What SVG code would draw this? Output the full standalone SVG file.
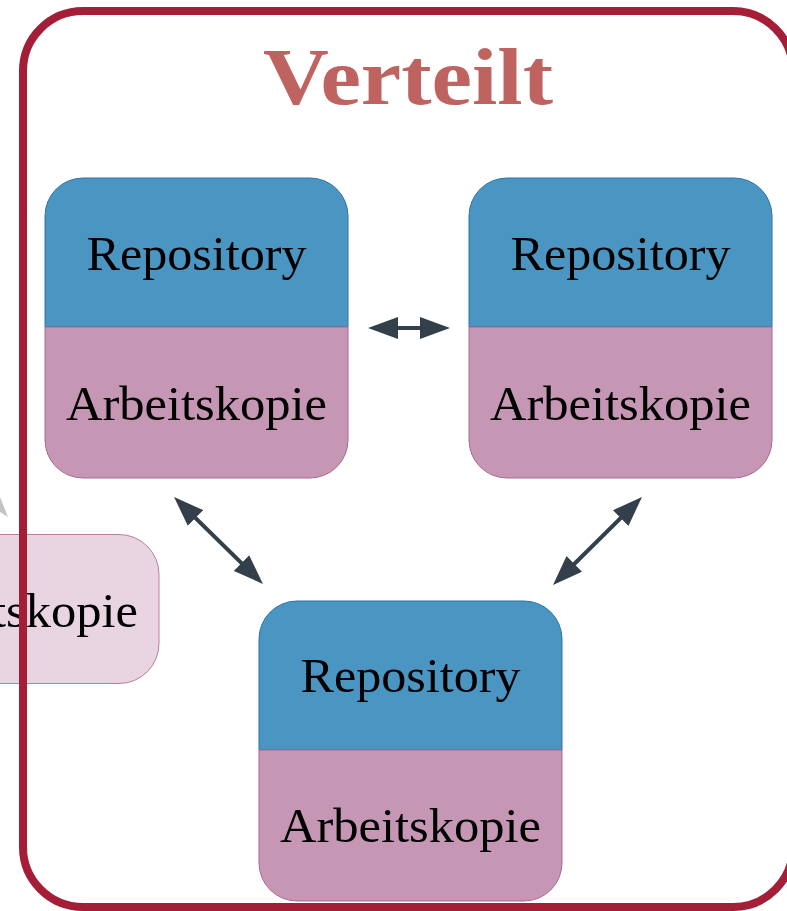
<svg xmlns="http://www.w3.org/2000/svg" width="787" height="911" viewBox="0 0 787 911">
  <style>
    .repo { fill: #4a95c2; stroke: #2e73a8; stroke-width: 1; }
    .work { fill: #c597b4; stroke: #a86891; stroke-width: 1; }
    .label { font-family: "Liberation Serif", "Times New Roman", serif; font-size: 48px; fill: #000; text-anchor: middle; }
    .title { font-family: "Liberation Serif", "Times New Roman", serif; font-size: 80px; font-weight: bold; fill: #be6360; text-anchor: middle; }
    .conn { stroke: #333f4b; stroke-width: 4; fill: none; }
  </style>
  <defs>
    <!-- arrowhead: 30 long, 22 wide; the shaft ends 10px short of the tip -->
    <marker id="head" markerUnits="userSpaceOnUse" markerWidth="30" markerHeight="22" refX="20" refY="11" orient="auto-start-reverse" viewBox="0 0 30 22">
      <polygon points="0,0 30,11 0,22" fill="#333f4b"/>
    </marker>
  </defs>

  <rect width="787" height="911" fill="#ffffff"/>

  <!-- faded elements from the neighbouring layout -->
  <polygon points="0,497 8,517 0,512" fill="#c4c4c4"/>
  <g id="local-copy">
    <rect x="-144" y="534.5" width="303" height="149" rx="40" fill="#e8d5e1" stroke="#b77ea0" stroke-width="1"/>
    <text class="label" x="7.5" y="627" textLength="261" lengthAdjust="spacingAndGlyphs">Arbeitskopie</text>
  </g>

  <!-- frame around the distributed setup -->
  <g id="frame">
    <rect x="23" y="11" width="770" height="896" rx="60" fill="none" stroke="#a51e37" stroke-width="8"/>
    <text class="title" x="408" y="104" textLength="290" lengthAdjust="spacingAndGlyphs">Verteilt</text>
  </g>

  <!-- node: upper left -->
  <g id="node-left">
    <path class="repo" d="M45,327 V216 a38,38 0 0 1 38,-38 H310 a38,38 0 0 1 38,38 V327 Z"/>
    <path class="work" d="M45,327 H348 V440 a38,38 0 0 1 -38,38 H83 a38,38 0 0 1 -38,-38 Z"/>
    <text class="label" x="196.5" y="270" textLength="220" lengthAdjust="spacingAndGlyphs">Repository</text>
    <text class="label" x="196.5" y="420" textLength="261" lengthAdjust="spacingAndGlyphs">Arbeitskopie</text>
  </g>

  <!-- node: upper right -->
  <g id="node-right">
    <path class="repo" d="M469,327 V216 a38,38 0 0 1 38,-38 H734 a38,38 0 0 1 38,38 V327 Z"/>
    <path class="work" d="M469,327 H772 V440 a38,38 0 0 1 -38,38 H507 a38,38 0 0 1 -38,-38 Z"/>
    <text class="label" x="620.5" y="270" textLength="220" lengthAdjust="spacingAndGlyphs">Repository</text>
    <text class="label" x="620.5" y="420" textLength="261" lengthAdjust="spacingAndGlyphs">Arbeitskopie</text>
  </g>

  <!-- node: bottom -->
  <g id="node-bottom">
    <path class="repo" d="M259,750 V639 a38,38 0 0 1 38,-38 H524 a38,38 0 0 1 38,38 V750 Z"/>
    <path class="work" d="M259,750 H562 V863 a38,38 0 0 1 -38,38 H297 a38,38 0 0 1 -38,-38 Z"/>
    <text class="label" x="410.5" y="692" textLength="220" lengthAdjust="spacingAndGlyphs">Repository</text>
    <text class="label" x="410.5" y="842" textLength="261" lengthAdjust="spacingAndGlyphs">Arbeitskopie</text>
  </g>

  <!-- bidirectional connectors -->
  <g id="connectors">
    <line class="conn" x1="378" y1="328" x2="440" y2="328" marker-start="url(#head)" marker-end="url(#head)"/>
    <line class="conn" x1="181.2" y1="504" x2="255.8" y2="577" marker-start="url(#head)" marker-end="url(#head)"/>
    <line class="conn" x1="634.9" y1="504" x2="560.1" y2="578" marker-start="url(#head)" marker-end="url(#head)"/>
  </g>
</svg>
